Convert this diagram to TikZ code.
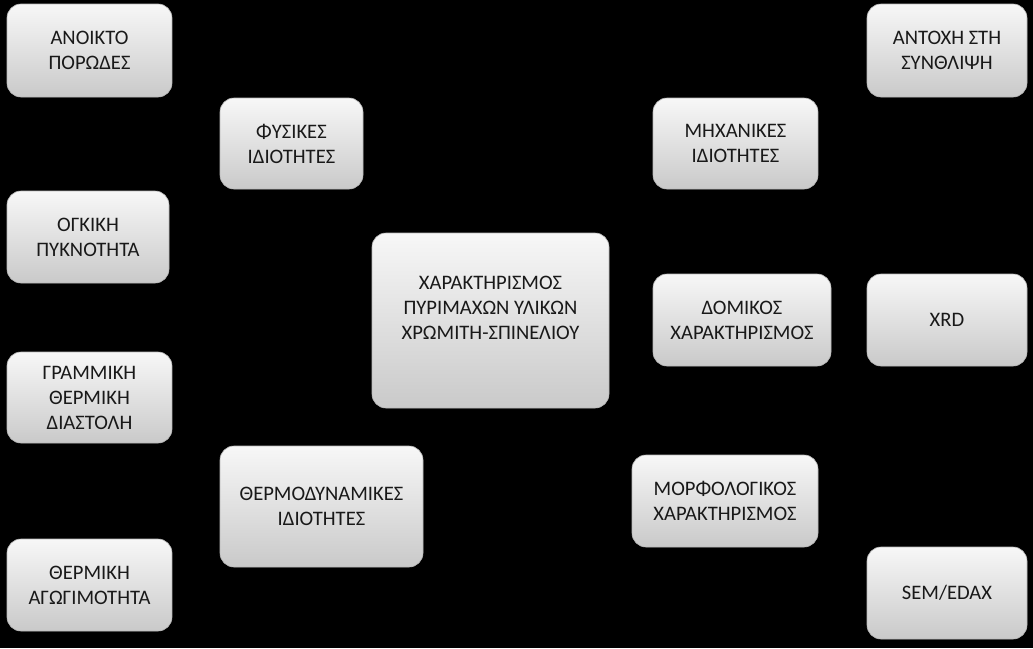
\documentclass[tikz,border=0pt]{standalone}
\usepackage{fontspec}
\setmainfont{Carlito}
\usepackage{tikz}
\usepackage{xcolor}

\begin{document}
\begin{tikzpicture}[x=1pt,y=-1pt]
\tikzset{box/.style={rounded corners=14pt,top color=gray!6,bottom color=gray!42,draw=gray!55,line width=0.6pt,
  align=center,text=black!90,font=\fontsize{20.6}{25}\selectfont,inner sep=0pt}}

\fill[black] (0,0) rectangle (1033,648);

\node[box,minimum width=165pt,minimum height=93pt] (anoikto) at (89.5,50.5) {ΑΝΟΙΚΤΟ\\ΠΟΡΩΔΕΣ};
\node[box,minimum width=162pt,minimum height=92pt] (ogkiki) at (88,237) {ΟΓΚΙΚΗ\\ΠΥΚΝΟΤΗΤΑ};
\node[box,minimum width=165pt,minimum height=91pt] (grammiki) at (89.5,397.5) {ΓΡΑΜΜΙΚΗ\\ΘΕΡΜΙΚΗ\\ΔΙΑΣΤΟΛΗ};
\node[box,minimum width=165pt,minimum height=92pt] (agogimotita) at (89.5,585) {ΘΕΡΜΙΚΗ\\ΑΓΩΓΙΜΟΤΗΤΑ};

\node[box,minimum width=143pt,minimum height=91pt] (fysikes) at (291.5,143.5) {ΦΥΣΙΚΕΣ\\ΙΔΙΟΤΗΤΕΣ};
\node[box,minimum width=203pt,minimum height=121pt] (thermodyn) at (321.5,506.5) {ΘΕΡΜΟΔΥΝΑΜΙΚΕΣ\\ΙΔΙΟΤΗΤΕΣ};

\node[box,minimum width=237pt,minimum height=175pt] (xarakt) at (490.5,320.5) {ΧΑΡΑΚΤΗΡΙΣΜΟΣ\\ΠΥΡΙΜΑΧΩΝ ΥΛΙΚΩΝ\\ΧΡΩΜΙΤΗ-ΣΠΙΝΕΛΙΟΥ\\~};

\node[box,minimum width=165pt,minimum height=91pt] (michanikes) at (735.5,143.5) {ΜΗΧΑΝΙΚΕΣ\\ΙΔΙΟΤΗΤΕΣ};
\node[box,minimum width=178pt,minimum height=92pt] (domikos) at (742,320) {ΔΟΜΙΚΟΣ\\ΧΑΡΑΚΤΗΡΙΣΜΟΣ};
\node[box,minimum width=186pt,minimum height=92pt] (morfo) at (725,501) {ΜΟΡΦΟΛΟΓΙΚΟΣ\\ΧΑΡΑΚΤΗΡΙΣΜΟΣ};

\node[box,minimum width=160pt,minimum height=93pt] (antochi) at (947,50.5) {ΑΝΤΟΧΗ ΣΤΗ\\ΣΥΝΘΛΙΨΗ};
\node[box,minimum width=160pt,minimum height=92pt] (xrd) at (947,320) {XRD};
\node[box,minimum width=160pt,minimum height=92pt] (semedax) at (947,593) {SEM/EDAX};

\end{tikzpicture}
\end{document}
